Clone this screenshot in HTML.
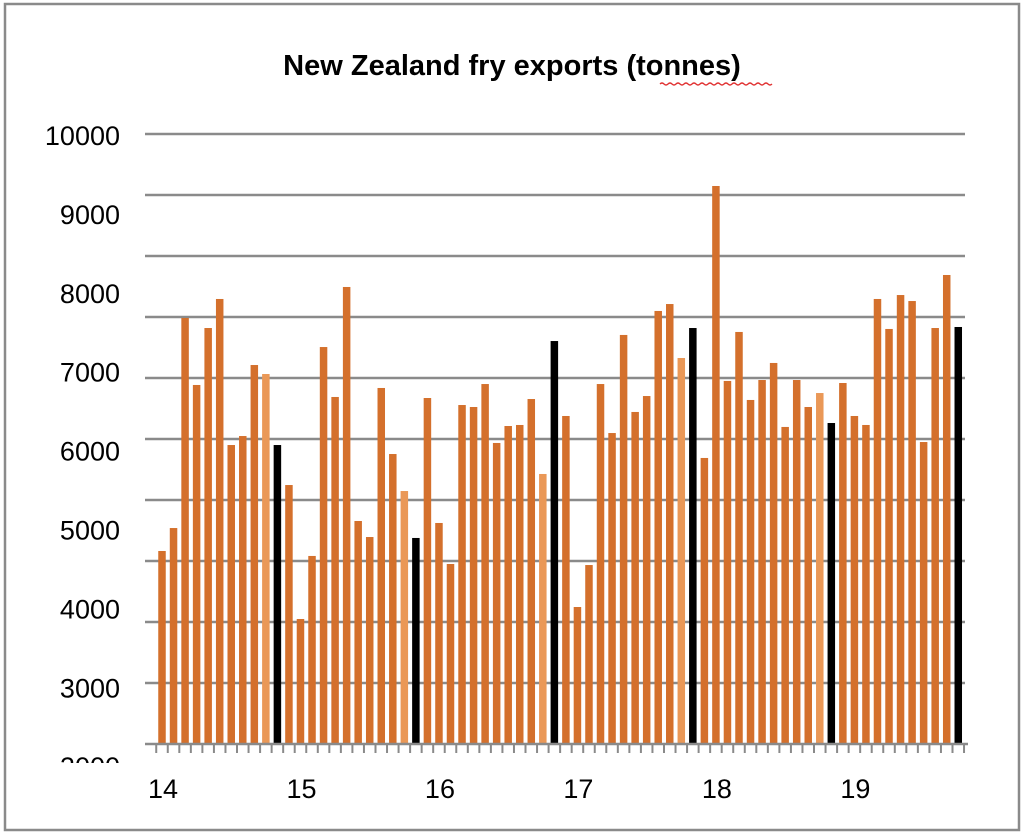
<!DOCTYPE html>
<html><head><meta charset="utf-8"><style>
html,body{margin:0;padding:0;background:#fff;}
svg{display:block;font-family:"Liberation Sans",sans-serif;}
</style></head><body>
<svg id="chart" width="1024" height="836" viewBox="0 0 1024 836" xmlns="http://www.w3.org/2000/svg">
  <rect x="5" y="4" width="1014" height="826" fill="#fff" stroke="#8a8a8a" stroke-width="2.5"/>
  <text x="512" y="75" text-anchor="middle" font-size="29" font-weight="bold" fill="#000">New Zealand fry exports (tonnes)</text>
  <path d="M660 84 q2 -2 4 0 t4 0 t4 0 t4 0 t4 0 t4 0 t4 0 t4 0 t4 0 t4 0 t4 0 t4 0 t4 0 t4 0 t4 0 t4 0 t4 0 t4 0 t4 0 t4 0 t4 0 t4 0 t4 0 t4 0 t4 0 t4 0 t4 0 t4 0" fill="none" stroke="#e03030" stroke-width="1.3"/>
  <g id="grid"></g>
  <g id="bars"></g>
  <g id="axis"></g>
  <g id="ylabels"></g>
  <g id="xlabels"></g>
  <clipPath id="yclip"><rect x="0" y="0" width="140" height="763"/></clipPath>
</svg>
<script>
const values = [4715,5006,7668,6819,7541,7909,6058,6172,7072,6958,6058,5551,
3853,4652,7300,6667,8061,5095,4892,6781,5944,5475,4880,6654,
5070,4550,6565,6540,6831,6084,6299,6312,6641,5691,7376,6426,
4005,4537,6831,6210,7453,6477,6679,7757,7845,7161,7541,5894,
9341,6870,7491,6629,6882,7098,6287,6882,6540,6717,6337,6844,
6426,6312,7909,7529,7959,7883,6096,7541,8213,7554];
// kind: 0 = normal month, 1 = light (Oct), 2 = black (Nov)
const kinds = [0,0,0,0,0,0,0,0,0,1,2,0, 0,0,0,0,0,0,0,0,0,1,2,0, 0,0,0,0,0,0,0,0,0,1,2,0,
0,0,0,0,0,0,0,0,0,1,2,0, 0,0,0,0,0,0,0,0,0,1,2,0, 0,0,0,0,0,0,0,0,0,2];
const yTicks = [10000,9000,8000,7000,6000,5000,4000,3000,2000];
const yearLabels = ["14","15","16","17","18","19"];

const NS = "http://www.w3.org/2000/svg";
const baseY = 744, x0 = 162, step = 11.54, bw = 7.5;
const yScale = v => 134 + (10000 - v) * 0.0789;
const xScale = i => x0 + i * step;
const colors = ["#d4702c", "#ea9857", "#000000"];
function mk(tag, attrs, parent) {
  const e = document.createElementNS(NS, tag);
  for (const k in attrs) e.setAttribute(k, attrs[k]);
  parent.appendChild(e);
  return e;
}
const grid = document.getElementById('grid');
for (let g = 0; g < 10; g++) {
  const y = 134 + g * 61;
  const l = mk('line', {x1:145, x2:965, y1:y, y2:y, stroke:'#8a8a8a', 'stroke-width':2.5}, grid);
  
  
}
const bars = document.getElementById('bars');
values.forEach((v, i) => {
  const top = yScale(v);
  const r = mk('rect', {x: xScale(i) - bw/2, y: top, width: bw, height: baseY - top, fill: colors[kinds[i]]}, bars);
  
  
});
const axis = document.getElementById('axis');
const al = mk('line', {x1:145, x2:968, y1:baseY, y2:baseY, stroke:'#8a8a8a', 'stroke-width':2.5}, axis);


for (let i = 0; i <= values.length; i++) {
  const x = xScale(i) - step/2;
  const t = mk('line', {x1:x, x2:x, y1:baseY, y2:baseY+9, stroke:'#8a8a8a', 'stroke-width':2}, axis);
  
  
}
const yl = document.getElementById('ylabels');
yl.setAttribute('clip-path', 'url(#yclip)');
yTicks.forEach(v => {
  const t = mk('text', {x:120, y: yScale(v) + 11, 'text-anchor':'end', 'font-size':27, fill:'#000'}, yl);
  t.textContent = v;
  
  
});
const xl = document.getElementById('xlabels');
yearLabels.forEach((lab, k) => {
  const t = mk('text', {x: xScale(k*12) + 1, y: 798, 'text-anchor':'middle', 'font-size':27, fill:'#000'}, xl);
  t.textContent = lab;
  
  
});
</script>
</body></html>
